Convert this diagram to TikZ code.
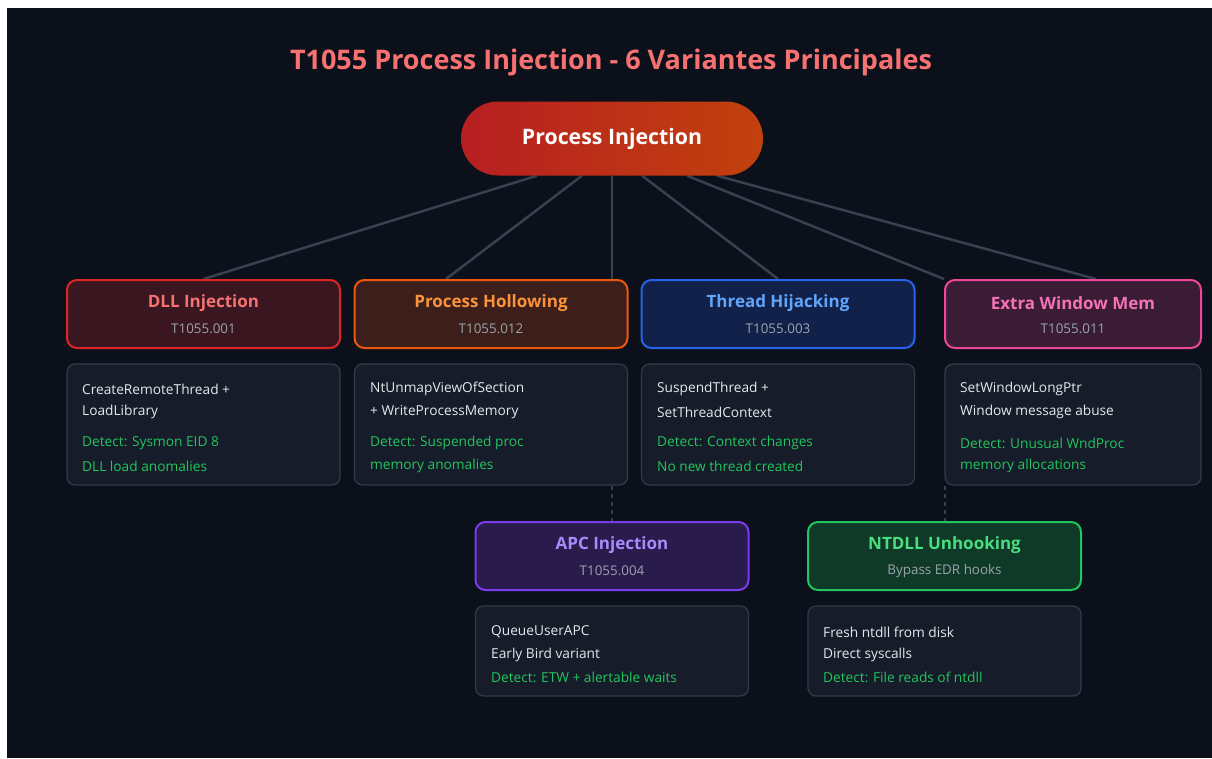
\documentclass[tikz,border=0pt]{standalone}
\usepackage{fontspec}
\setmainfont{Open Sans}
\usetikzlibrary{positioning,calc,backgrounds}

\definecolor{bgdark}{RGB}{12,16,27}
\definecolor{linkgray}{HTML}{374151}
\definecolor{detfill}{HTML}{161C29}
\definecolor{detborder}{HTML}{333B4A}
\definecolor{dettext}{HTML}{E5E7EB}
\definecolor{detgreen}{HTML}{22C55E}
\definecolor{codegray}{HTML}{9CA3AF}
\definecolor{titlered}{HTML}{F87171}
\definecolor{rootleft}{HTML}{B71F22}
\definecolor{rootright}{HTML}{C2410C}
% variant colours
\definecolor{dllborder}{HTML}{DC2626}\definecolor{dllfill}{HTML}{3A1720}\definecolor{dlltitle}{HTML}{F87171}
\definecolor{holborder}{HTML}{EA580C}\definecolor{holfill}{HTML}{3C1F1B}\definecolor{holtitle}{HTML}{FB923C}
\definecolor{thrborder}{HTML}{2563EB}\definecolor{thrfill}{HTML}{11214A}\definecolor{thrtitle}{HTML}{60A5FA}
\definecolor{ewmborder}{HTML}{EC4899}\definecolor{ewmfill}{HTML}{3B1C35}\definecolor{ewmtitle}{HTML}{F472B6}
\definecolor{apcborder}{HTML}{7C3AED}\definecolor{apcfill}{HTML}{291B4C}\definecolor{apctitle}{HTML}{A78BFA}
\definecolor{ntdborder}{HTML}{22C55E}\definecolor{ntdfill}{HTML}{0F3A28}\definecolor{ntdtitle}{HTML}{4ADE80}

\tikzset{
  hdr/.style={draw, line width=2pt, rounded corners=10pt, minimum width=273pt, minimum height=68pt},
  detbox/.style={draw=detborder, fill=detfill, line width=1.2pt, rounded corners=8pt, minimum width=273pt, minimum height=121pt},
  ttl/.style={font=\fontsize{17}{19}\selectfont\bfseries, inner sep=0pt},
  codetxt/.style={text=codegray, font=\fontsize{13.4}{15}\selectfont, inner sep=0pt},
  txt/.style={anchor=west, text=dettext, font=\fontsize{13.7}{16}\selectfont, inner sep=0pt},
  det/.style={txt, text=detgreen},
  link/.style={draw=linkgray, line width=2.5pt},
  dashlink/.style={draw=linkgray, line width=2pt, dash pattern=on 4pt off 4pt},
}

\begin{document}
\begin{tikzpicture}[x=1pt,y=-1pt]
    \useasboundingbox (0,0) rectangle (1212,758);

    \node[text=titlered, font=\fontsize{27}{31}\selectfont\bfseries] (title) at (611,62) {T1055 Process Injection - 6 Variantes Principales};

    \node[minimum width=302pt, minimum height=74pt, rounded corners=37pt, left color=rootleft, right color=rootright,
          text=white, font=\fontsize{21.3}{25}\selectfont\bfseries] (root) at (612,138.5) {Process Injection};

    % headers
    \node[hdr, draw=dllborder, fill=dllfill] (dll) at (203.5,314) {};
    \node[hdr, draw=holborder, fill=holfill] (hol) at (491,314) {};
    \node[hdr, draw=thrborder, fill=thrfill] (thr) at (778,314) {};
    \node[hdr, draw=ewmborder, fill=ewmfill, minimum width=256pt] (ewm) at (1073,314) {};
    \node[hdr, draw=apcborder, fill=apcfill] (apc) at (612,556) {};
    \node[hdr, draw=ntdborder, fill=ntdfill] (ntd) at (944.5,556) {};

    \node[ttl, text=dlltitle] at ($(dll.center)+(0,-10.5)$) {DLL Injection};
    \node[codetxt] at ($(dll.center)+(0,15)$) {T1055.001};
    \node[ttl, text=holtitle] at ($(hol.center)+(0,-10.5)$) {Process Hollowing};
    \node[codetxt] at ($(hol.center)+(0,15)$) {T1055.012};
    \node[ttl, text=thrtitle] at ($(thr.center)+(0,-10.5)$) {Thread Hijacking};
    \node[codetxt] at ($(thr.center)+(0,15)$) {T1055.003};
    \node[ttl, text=ewmtitle] at ($(ewm.center)+(0,-10.5)$) {Extra Window Mem};
    \node[codetxt] at ($(ewm.center)+(0,15)$) {T1055.011};
    \node[ttl, text=apctitle] at ($(apc.center)+(0,-10.5)$) {APC Injection};
    \node[codetxt] at ($(apc.center)+(0,15)$) {T1055.004};
    \node[ttl, text=ntdtitle] at ($(ntd.center)+(0,-10.5)$) {NTDLL Unhooking};
    \node[codetxt] at ($(ntd.center)+(0,15)$) {Bypass EDR hooks};

    % details
    \node[detbox] (dlld) at (203.5,424.5) {};
    \node[txt] at (82,389) {CreateRemoteThread +};
    \node[txt] at (82,412) {LoadLibrary};
    \node[det] at (82,443) {Detect: Sysmon EID 8};
    \node[det] at (82,466) {DLL load anomalies};

    \node[detbox] (hold) at (491,424.5) {};
    \node[txt] at (370,389) {NtUnmapViewOfSection};
    \node[txt] at (370,412) {+ WriteProcessMemory};
    \node[det] at (370,443) {Detect: Suspended proc};
    \node[det] at (370,466) {memory anomalies};

    \node[detbox] (thrd) at (778,424.5) {};
    \node[txt] at (657,389) {SuspendThread +};
    \node[txt] at (657,412) {SetThreadContext};
    \node[det] at (657,443) {Detect: Context changes};
    \node[det] at (657,466) {No new thread created};

    \node[detbox, minimum width=256pt] (ewmd) at (1073,424.5) {};
    \node[txt] at (960,389) {SetWindowLongPtr};
    \node[txt] at (960,412) {Window message abuse};
    \node[det] at (960,443) {Detect: Unusual WndProc};
    \node[det] at (960,466) {memory allocations};

    \node[detbox, minimum height=90pt] (apcd) at (612,651) {};
    \node[txt] at (491,632) {QueueUserAPC};
    \node[txt] at (491,655) {Early Bird variant};
    \node[det] at (491,677) {Detect: ETW + alertable waits};

    \node[detbox, minimum height=90pt] (ntdd) at (944.5,651) {};
    \node[txt] at (823,632) {Fresh ntdll from disk};
    \node[txt] at (823,655) {Direct syscalls};
    \node[det] at (823,677) {Detect: File reads of ntdll};

    % background and connectors
    \begin{scope}[on background layer]
        \fill[white] (0,0) rectangle (1212,758);
        \fill[bgdark] (7,8) rectangle (1212,758);
        \draw[link] ($(root.south)+(-75,0)$) -- (dll.north);
        \draw[link] ($(root.south)+(-30,0)$) -- ($(hol.north)+(-45,0)$);
        \draw[link] (root.south) -- (root.south |- hol.north);
        \draw[link] ($(root.south)+(30,0)$) -- (thr.north);
        \draw[link] ($(root.south)+(75,0)$) -- (ewm.north west);
        \draw[link] ($(root.south)+(105,0)$) -- ($(ewm.north)+(23,0)$);
    \end{scope}
    \draw[dashlink] (hold.south -| apc.north) -- (apc.north);
    \draw[dashlink] (ewmd.south -| ntd.north) -- (ntd.north);
\end{tikzpicture}
\end{document}
